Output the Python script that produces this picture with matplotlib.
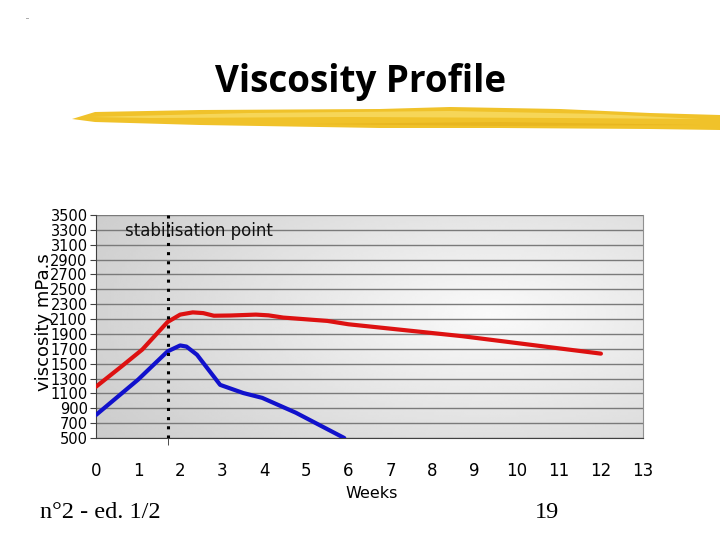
import matplotlib.pyplot as plt
import numpy as np
from matplotlib.patches import Polygon

# data (weeks, viscosity mPa.s)
red_weeks = [0, 0.6, 1.1, 1.7, 2.0, 2.3, 2.55, 2.8, 3.2, 3.8, 4.1, 4.45, 5.5, 6.0, 8.7, 12.0]
red_visc = [1190, 1460, 1690, 2060, 2160, 2190, 2180, 2145, 2148, 2160, 2150, 2120, 2075, 2030, 1870, 1635]
blue_weeks = [0, 1.0, 1.7, 2.0, 2.15, 2.4, 2.95, 3.5, 3.95, 4.75, 5.9]
blue_visc = [810, 1285, 1665, 1745, 1730, 1620, 1215, 1105, 1040, 840, 500]

stab_week = 1.7
tick_weeks = [1.7, 4, 8, 9, 12]
x_labels = [str(i) for i in range(14)]
y_ticks = list(range(500, 3501, 200))

fig = plt.figure(figsize=(7.2, 5.4), dpi=100)

# slide decoration: brush stroke and title
deco = fig.add_axes([0, 0, 1, 1])
deco.set_xlim(0, 720)
deco.set_ylim(540, 0)
deco.axis('off')
brush = [(72, 119), (95, 112), (200, 110), (380, 109), (450, 107), (560, 109), (650, 113), (720, 115),
         (720, 130), (650, 129), (500, 128), (380, 128), (200, 125), (95, 122)]
deco.add_patch(Polygon(brush, closed=True, color='#f0c22a', lw=0))
streak = [(90, 117), (250, 113), (450, 111), (600, 114), (700, 119), (560, 118), (350, 117), (150, 118)]
deco.add_patch(Polygon(streak, closed=True, color='#f8dc64', lw=0, alpha=0.8))
streak2 = [(300, 124), (500, 122), (700, 125), (500, 126)]
deco.add_patch(Polygon(streak2, closed=True, color='#e6b21c', lw=0, alpha=0.7))
deco.text(361, 82, 'Viscosity Profile', ha='center', va='center', fontsize=26.5,
          fontweight='bold', family='Open Sans')
deco.text(28, 19, '--', ha='center', va='center', fontsize=4)
deco.text(40, 513, 'n°2 - ed. 1/2', ha='left', va='center', fontsize=17.5,
          family='Liberation Serif')
deco.text(547, 513, '19', ha='center', va='center', fontsize=17.5, family='Liberation Serif')

ax = fig.add_axes([96 / 720, 1 - 438 / 540, (643 - 96) / 720, (438 - 215) / 540])

# shaded plot background, lighter toward the middle right
gx, gy = np.meshgrid(np.linspace(0, 1, 200), np.linspace(0, 1, 100))
shade = np.sqrt(((gx - 0.72) / 0.8) ** 2 + ((gy - 0.45) / 0.9) ** 2)
ax.imshow(np.clip(0.98 - 0.17 * shade, 0, 1), extent=[0, 1, 0, 1], transform=ax.transAxes,
          cmap='gray', vmin=0, vmax=1, aspect='auto', zorder=0)

ax.set_xlim(0, 13)
ax.set_ylim(500, 3500)
for y in y_ticks:
    ax.axhline(y, color='#7a7a7a', lw=1, zorder=1)

ax.plot(red_weeks, red_visc, color='#dd1111', lw=3, zorder=3, solid_capstyle='round')
ax.plot(blue_weeks, blue_visc, color='#1111cc', lw=3, zorder=3, solid_capstyle='round')
ax.axvline(stab_week, color='black', ls=(0, (1, 2)), lw=2.2, zorder=4)
ax.text(0.68, 3290, 'stabilisation point', fontsize=12, va='center', ha='left', zorder=5,
        color='#111111')

ax.set_yticks(y_ticks)
ax.set_yticklabels([str(y) for y in y_ticks], fontsize=10.5, family='Liberation Sans Narrow')
ax.tick_params(axis='y', length=4, pad=2, color='#404040')
ax.set_xticks(range(14))
ax.set_xticklabels(x_labels, fontsize=12)
ax.tick_params(axis='x', length=0, pad=17)
ax.set_xticks(tick_weeks, minor=True)
ax.tick_params(axis='x', which='minor', length=5, color='#303030')

ax.spines['top'].set_visible(False)
ax.spines['right'].set_color('#909090')
ax.spines['left'].set_color('#404040')
ax.spines['bottom'].set_color('#404040')

fig.text(372 / 720, 1 - 493 / 540, 'Weeks', ha='center', va='center', fontsize=11.5)
fig.text(44 / 720, 1 - 322 / 540, 'viscosity mPa.s', ha='center', va='center',
         rotation=90, fontsize=13)

fig.savefig('out.png', dpi=100)
